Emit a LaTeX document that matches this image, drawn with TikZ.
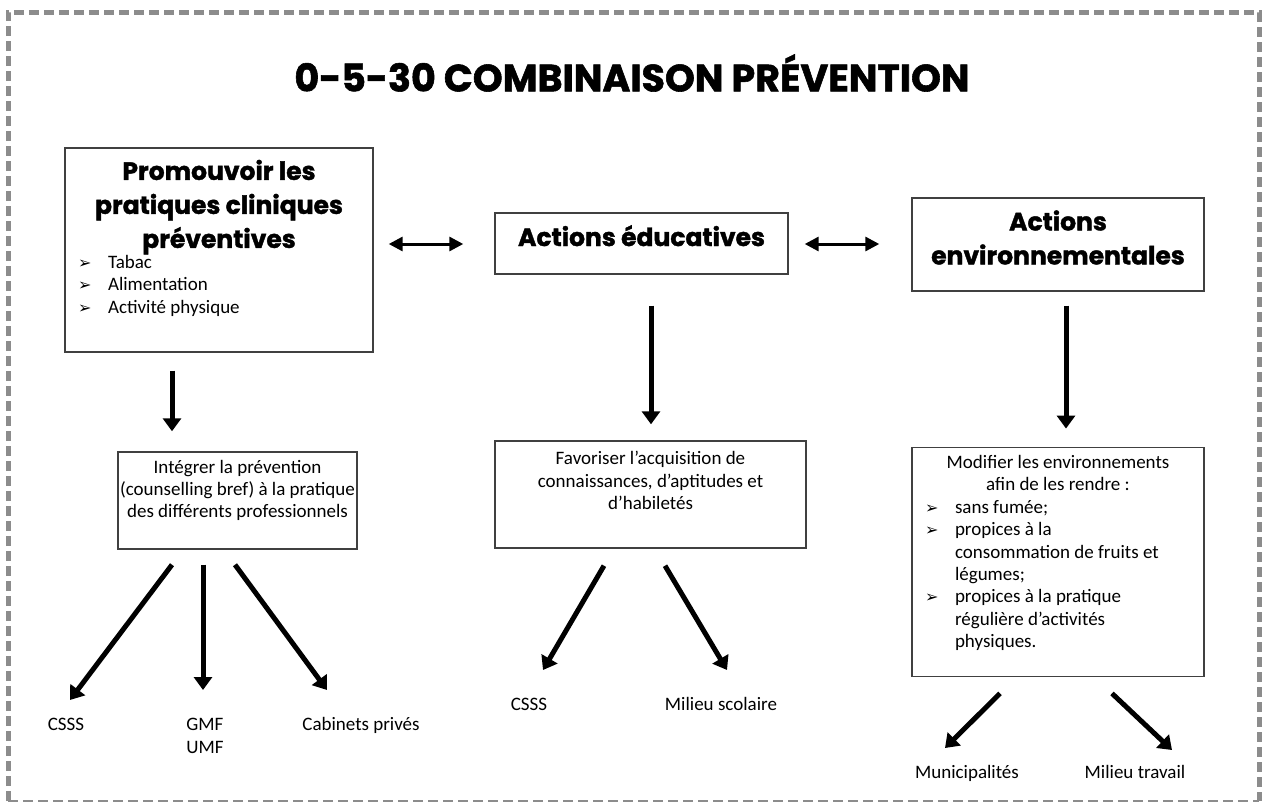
\documentclass[tikz,border=0pt]{standalone}
\usepackage{fontspec}
\setmainfont{Carlito}
\newfontfamily\headfont{Poppins}[BoldFeatures={FakeBold=1.5}]
\newfontfamily\symfont{DejaVu Sans}
\usetikzlibrary{arrows.meta,calc,positioning}
\newcommand{\hfnt}{\headfont\bfseries\fontsize{12.5}{17}\selectfont}
\newcommand{\bfnt}{\fontsize{9.5}{11.2}\selectfont}
\newcommand{\bul}{{\symfont\fontsize{8}{8}\selectfont ➢}}
\newcommand{\itm}[1]{\par\noindent\hangindent=17.5pt\hangafter=1\hspace*{2.5pt}\makebox[15pt][l]{\bul}#1\par}
\newcommand{\lift}[1]{\par\vspace{#1}\hrule height 0pt}
\tikzset{
    box/.style={
           draw=black!75, line width=0.7pt,
           inner sep=4pt,
           font=\bfnt
           },
    head/.style={
           font=\hfnt,
           align=flush center
           },
    label/.style={
           font=\bfnt,
           inner sep=0pt,
           text height=7pt, text depth=2pt
           },
    big/.style={
           -{Triangle[length=6.5pt,width=9pt]},
           line width=2.5pt
           },
    dbl/.style={
           {Triangle[length=7pt,width=7pt]}-{Triangle[length=7pt,width=7pt]},
           line width=1.5pt
           },
    frame/.style={
           draw=black!45, line width=2.5pt,
           dash pattern=on 5pt off 2.5pt
           },
    framebot/.style={
           draw=black!45, line width=0.8pt,
           dash pattern=on 5pt off 2.5pt
           }
}

\begin{document}
\begin{tikzpicture}[x=0.5pt, y=-0.5pt]
\useasboundingbox (0,0) rectangle (1265,804);
% frame
\draw[frame] (8,801) -- (8,12) -- (1259,12) -- (1259,801);
\draw[framebot] (8,801) -- (1259,801);

\node[font=\headfont\bfseries\fontsize{19}{22}\selectfont] (title) at (632,73) {0-5-30 COMBINAISON PRÉVENTION};

% top row
\node[box, text width=146pt, minimum height=102pt, align=flush left] (promo) at (219,250) {%
   {\centering\hfnt Promouvoir les\\pratiques cliniques\\préventives\par}
   \vspace{-1pt}
   \itm{Tabac}
   \itm{Alimentation}
   \itm{Activité physique}
   \lift{12pt}};
\node[box, head, minimum width=146.5pt, text height=16.5pt, text depth=14pt, inner ysep=0pt] (educ) at (641.5,243.5) {Actions éducatives};
\node[box, head, text width=138pt, minimum height=46.5pt] (envi) at (1058,244.5) {Actions\\environnementales\lift{7pt}};

% second row
\node[box, inner xsep=1pt, text width=117.5pt, minimum height=48.5pt, align=flush center] (intg) at (237.5,500.5) {%
   Intégrer la prévention\\(counselling bref) à la pratique\\des différents professionnels\lift{10pt}};
\node[box, text width=147.5pt, minimum height=53.5pt, align=flush center] (favo) at (650.5,494.5) {%
   Favoriser l’acquisition de\\connaissances, d’aptitudes et\\d’habiletés\lift{14pt}};
\node[box, text width=138pt, minimum height=114pt, align=flush left] (modi) at (1058,562) {%
   {\centering Modifier les environnements\\afin de les rendre :\par}
   \itm{sans fumée;}
   \itm{propices à la\newline consommation de fruits et\newline légumes;}
   \itm{propices à la pratique\newline régulière d’activités\newline physiques.}
   \lift{9pt}};

% places
\node[label] (csssA) at (66,725) {CSSS};
\node[font=\bfnt, inner sep=0pt, align=left] (gmf) at (205,736) {GMF\\UMF};
\node[label] (cab) at (361,725) {Cabinets privés};
\node[label] (csssB) at (529,705) {CSSS};
\node[label] (scol) at (721,705) {Milieu scolaire};
\node[label] (muni) at (967,773) {Municipalités};
\node[label] (trav) at (1135,773) {Milieu travail};

% links between the actions
\path[dbl]
   ($(promo.east)+(15,-6)$) edge ($(educ.west)+(-31,0.5)$)
   ($(educ.east)+(16,0.5)$) edge ($(envi.west)+(-32,-0.5)$);

\path[big]
   ($(promo.south)+(-47,18)$) edge ($(intg.north)+(-65.5,-20)$)
   ($(educ.south)+(9.5,31)$) edge ($(favo.north)+(0.5,-16)$)
   ($(envi.south)+(8,14)$) edge ($(modi.north)+(8,-18)$)
   ($(intg.south)+(-65.5,15)$) edge ($(csssA)+(4,-25)$)
   ($(intg.south)+(-34.5,15)$) edge ($(gmf)+(-2,-46)$)
   ($(intg.south)+(-2.5,15)$) edge ($(cab)+(-34,-35)$)
   ($(favo.south)+(-46.5,17)$) edge ($(csssB)+(14,-35)$)
   ($(favo.south)+(14.5,17)$) edge ($(scol)+(6,-35)$)
   ($(modi.south)+(-58,16)$) edge ($(muni)+(-22,-25)$)
   ($(modi.south)+(54,16)$) edge ($(trav)+(37,-23)$);
\end{tikzpicture}
\end{document}
